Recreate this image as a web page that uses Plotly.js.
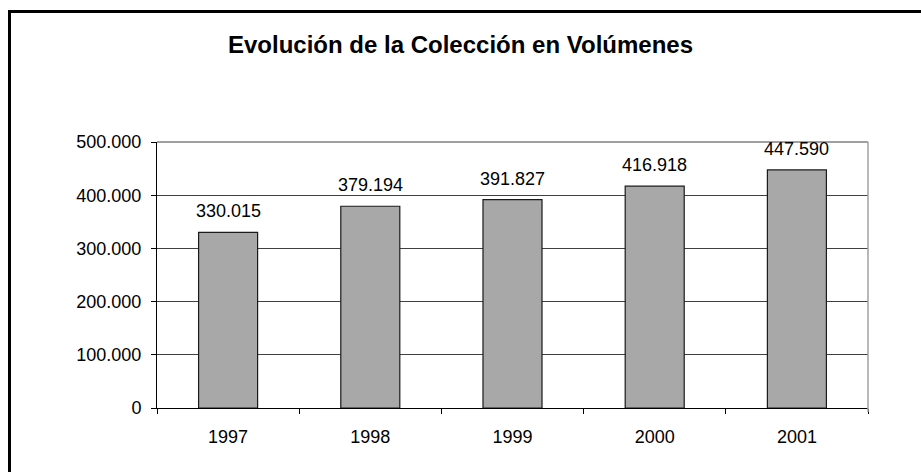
<!DOCTYPE html>
<html>
<head>
<meta charset="utf-8">
<script src="https://cdn.plot.ly/plotly-3.0.1.min.js"></script>
<style>
  html, body { margin: 0; padding: 0; background: #fff; }
  #wrap { position: relative; width: 921px; height: 472px; overflow: hidden; }
  #chart { position: absolute; left: 0; top: 0; width: 921px; height: 472px; }
  #frame { position: absolute; left: 8px; top: 10px; width: 940px; height: 500px;
           border-top: 3px solid #000; border-left: 3px solid #000; pointer-events: none; }
</style>
</head>
<body>
<div id="wrap">
  <div id="chart"></div>
  <div id="frame"></div>
</div>
<script>
const years = ["1997", "1998", "1999", "2000", "2001"];
const volumes = [330015, 379194, 391827, 416918, 447590];
const yTicks = [0, 100000, 200000, 300000, 400000, 500000];
const chartTitle = "Evolución de la Colección en Volúmenes";

const fontFam = "Liberation Sans, Arial, sans-serif";

const trace = {
  type: "bar",
  x: years,
  y: volumes,
  marker: { color: "#a8a8a8", line: { color: "#1a1a1a", width: 1.2 } },
  hoverinfo: "none"
};

const annotations = years.map((yr, i) => ({
  x: i, y: volumes[i], xref: "x", yref: "y",
  text: volumes[i].toLocaleString("de-DE"),
  showarrow: false, yanchor: "bottom", yshift: 9,
  font: { family: fontFam, size: 18, color: "#000" }
}));

const layout = {
  width: 921, height: 472,
  margin: { l: 157, r: 53, t: 142, b: 64, pad: 0 },
  paper_bgcolor: "#fff", plot_bgcolor: "#fff",
  separators: ",.",
  showlegend: false,
  bargap: 0.585,
  title: { text: "<b>" + chartTitle + "</b>", x: 0.5, xanchor: "center",
           y: 1 - 45 / 472, yanchor: "middle", yref: "container",
           font: { family: fontFam, size: 24, color: "#000" } },
  xaxis: {
    type: "category",
    range: [-0.5, years.length - 0.5],
    tickson: "boundaries",
    ticks: "outside", ticklen: 5, tickcolor: "#000", tickwidth: 1,
    showline: true, linecolor: "#000", linewidth: 1,
    showgrid: false, zeroline: false,
    ticklabelstandoff: 12,
    tickfont: { family: fontFam, size: 18, color: "#000" },
    fixedrange: true
  },
  yaxis: {
    range: [0, 500000],
    tickvals: yTicks,
    ticktext: yTicks.map(v => v === 0 ? "0" : v.toLocaleString("de-DE")),
    ticks: "outside", ticklen: 5, tickcolor: "#000", tickwidth: 1,
    showline: true, linecolor: "#000", linewidth: 1,
    showgrid: true, gridcolor: "#404040", gridwidth: 1,
    zeroline: false,
    ticklabelstandoff: 6,
    tickfont: { family: fontFam, size: 18, color: "#000" },
    fixedrange: true
  },
  shapes: [
    { type: "line", xref: "paper", yref: "paper", x0: 0, x1: 1, y0: 1, y1: 1,
      line: { color: "#404040", width: 1 } },
    { type: "line", xref: "paper", yref: "paper", x0: 1, x1: 1, y0: -0.015, y1: 1,
      line: { color: "#a0a0a0", width: 1.5 } }
  ],
  annotations: annotations
};

Plotly.newPlot("chart", [trace], layout, { staticPlot: true, displayModeBar: false });
</script>
</body>
</html>
